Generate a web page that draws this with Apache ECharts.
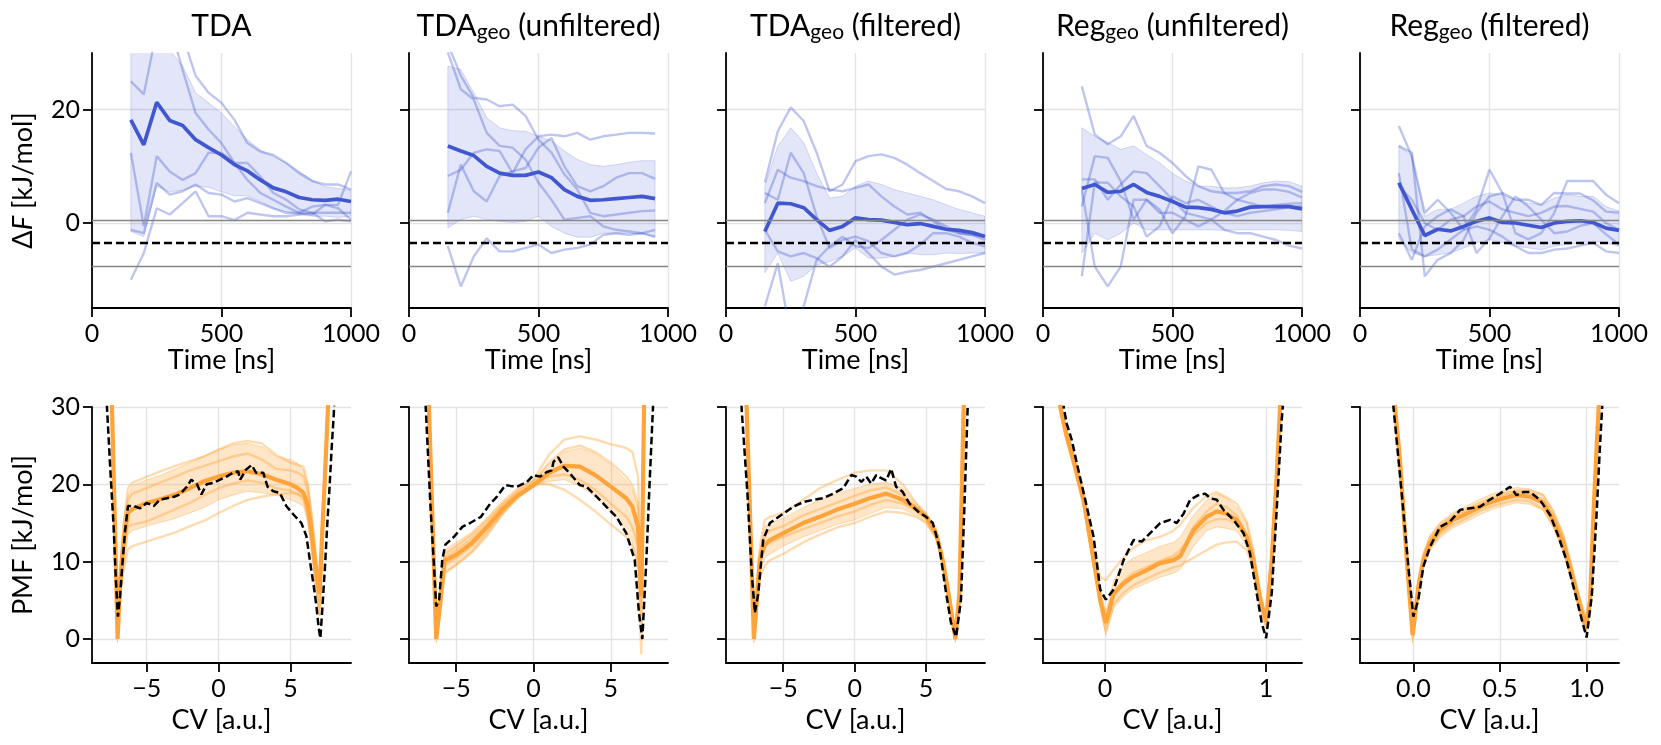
<!DOCTYPE html>
<html><head><meta charset="utf-8">
<script src="https://cdn.jsdelivr.net/npm/echarts@6/dist/echarts.min.js"></script>
<style>html,body{margin:0;padding:0;background:#fff}#c{width:1661px;height:745px}</style>
</head><body><div id="c"></div>
<script>
// ---------------- titles & ticks ----------------
const panelTitles = ['TDA', 'TDA{s|geo} (unfiltered)', 'TDA{s|geo} (filtered)', 'Reg{s|geo} (unfiltered)', 'Reg{s|geo} (filtered)'];
const timeTicks = [0, 500, 1000];
const dfTicks = [0, 20];
const pmfTicks = [0, 10, 20, 30];
const cvTicksWide = [-5, 0, 5];
const cvTicksReg = [0, 1];
const cvTicksRegF = [0, 0.5, 1.0];

// ---------------- top row: ΔF vs time ----------------
const timeA = [150,200,250,300,350,400,450,500,550,600,650,700,750,800,850,900,950,1000];
const timeB = [150,200,250,300,350,400,450,500,550,600,650,700,750,800,850,900,950];
const dfRef = -3.55;
const dfTolHi = 0.45;
const dfTolLo = -7.55;

// TDA
const dfMean1 = [18.2, 13.8, 21.3, 18.1, 17.2, 14.7, 13.3, 12.0, 10.3, 9.2, 7.6, 6.2, 5.5, 4.5, 4.1, 4.0, 4.2, 3.8];
const dfHi1 = [38, 35, 34, 30.5, 27.7, 23, 21.2, 19.4, 17, 14.7, 12.9, 11.7, 10.6, 9.1, 7.6, 6.4, 6.1, 5.8];
const dfLo1 = [-1.5, -2.4, 6.5, 5.5, 5.8, 6.5, 6.3, 5.5, 4.8, 4.8, 3.8, 2.6, 2.0, 1.5, 1.2, 1.2, 1.0, 1.2];
const dfRun1a = [25, 22.7, 34, 36, 33, 26, 23, 21.2, 18.2, 14.1, 12.6, 12, 10.6, 8.8, 7.4, 6.8, 6.8, 5.9];
const dfRun1b = [12.4, -0.6, 11.8, 9.1, 7.6, 8.8, 12.4, 12.4, 10.6, 10.6, 8.2, 5.3, 4.1, 2.4, 1.8, 0.3, 0.6, 0.3];
const dfRun1c = [-10, -5.3, 2.6, 1.5, 3.5, 5.6, 1.2, 1.2, 0.5, 1.8, 1.5, 1.2, 1.2, 1.5, 1.8, 1.8, 1.8, 1.8];
const dfRun1d = [-1.2, -1.8, 7.1, 5, 5.6, 6.8, 5.3, 5, 3.8, 4.4, 3.5, 2.6, 1.8, 1.8, 2.9, 3.2, 2.6, 0.6];
const dfRun1e = [38, 36, 40, 35, 27, 19.4, 16.5, 14.1, 10.6, 7.6, 5.3, 4.1, 2.9, 1.8, 1.5, 3.2, 3.2, 9.1];

// TDA_geo unfiltered
const dfMean2 = [13.6, 12.7, 11.9, 10.0, 8.8, 8.4, 8.4, 9.0, 8.0, 5.9, 4.7, 4.0, 4.1, 4.3, 4.5, 4.7, 4.3];
const dfHi2 = [27.7, 27.1, 23, 18.6, 16.8, 16.3, 16.2, 15.3, 14.5, 12.7, 11.2, 10.3, 10, 10.3, 10.7, 11.0, 11.0];
const dfLo2 = [-0.9, 0.6, 1.2, 0.6, 0.3, 0.1, 0.3, 1.2, -0.6, -1.8, -2.5, -2.5, -1.8, -1.8, -1.8, -1.9, -2.5];
const dfRun2a = [30.1, 23.6, 21.8, 15.9, 13.6, 13.3, 11.2, 7.1, 4.1, 0.6, 0.9, 1.2, -0.6, -1.2, -1.5, -1.8, -2.4];
const dfRun2b = [31.6, 26, 22.1, 21.8, 20.6, 20.9, 18.9, 14.7, 12.4, 8.6, 5.9, 1.8, 1.2, 1.5, 1.8, 2.1, 2.2];
const dfRun2c = [8.3, 9.4, 12.4, 13, 12.7, 8.8, 13, 15.3, 15.6, 15.3, 15.9, 14.7, 15.3, 15.6, 15.9, 15.9, 15.8];
const dfRun2d = [1.8, 10.3, 5.6, 3.8, 8.3, 9.1, 9.7, 13.3, 15.0, 10, 6.5, 5.6, 6.5, 8, 8.8, 8.8, 7.8];
const dfRun2e = [-4.1, -11.2, -5.9, -2.7, -5, -5, -4.4, -3.8, -5.3, -4.7, -4.4, -3.8, -2.1, -1.8, -2.1, -1.8, -1.2];

// TDA_geo filtered
const dfMean3 = [-1.5, 3.5, 3.4, 2.7, 0.6, -1.3, -0.6, 0.9, 0.6, 0.5, 0.1, -0.3, -0.1, -0.6, -1.1, -1.3, -1.7, -2.4];
const dfHi3 = [6.5, 13.6, 16.8, 14.2, 8.8, 4.4, 4.7, 6.5, 7.4, 6.8, 5.9, 5.3, 4.7, 4.1, 3.2, 2.4, 1.8, 1.2];
const dfLo3 = [-8.8, -5.3, -10.3, -9.4, -7.4, -6.8, -5.9, -4.4, -6.2, -6.2, -5.9, -5.3, -5.6, -5.6, -5.3, -5.4, -5.3, -5.3];
const dfRun3a = [7.1, 16.2, 20.4, 18, 12.4, 5.6, 6.8, 10.9, 11.8, 12.1, 11.5, 10.3, 8.8, 7.4, 6, 5.6, 4.7, 3.5];
const dfRun3b = [3.5, 9.4, 8, 7.4, 6.5, 5.9, 5.6, 6.2, 6.8, 4.7, 2.9, 1.5, 1.8, 0.3, -1.2, -1.8, -2.1, -3];
const dfRun3c = [5.3, 4.1, 12.4, 8.8, 1.2, -4.4, -3, -2.4, -3.2, -5.3, -5.9, -5.3, -3.8, -1.8, -1.8, -2.4, -3.5, -4.1];
const dfRun3d = [-1.2, -5, -5.9, -5.3, -6.2, -7.7, -5.9, -3, -5.3, -7.7, -9.1, -8.6, -8.3, -7.7, -7.1, -6.5, -5.9, -5.3];
const dfRun3e = [-14.7, -7.1, -20, -14.7, -6.5, -4.1, -2.4, -4.1, -4.4, -3, -1.2, 0.6, 1.5, 0.6, -0.6, -1.8, -2.1, -2.4];

// Reg_geo unfiltered
const dfMean4 = [6.1, 6.8, 5.4, 5.6, 6.8, 5.4, 4.7, 3.8, 2.8, 2.7, 2.4, 1.8, 2.1, 2.8, 2.9, 2.9, 2.9, 2.5];
const dfHi4 = [16.8, 15.3, 14.2, 13, 13.6, 12.1, 10.6, 8.8, 7.4, 6.5, 6.5, 6.2, 6.2, 6.5, 7.1, 7.4, 7.3, 6.5];
const dfLo4 = [-5.3, -1.8, -3, -1.8, 0, -1.2, -1.2, -1.2, -1.2, -1.2, -1.2, -1.3, -1.2, -1.2, -1.2, -1.2, -1.3, -1.5];
const dfRun4a = [24.1, 15.6, 13.9, 15.3, 18.9, 13.6, 12.4, 10.6, 8.3, 6.5, 5.6, 5.3, 5.3, 5.6, 6.5, 6.8, 6.5, 5.5];
const dfRun4b = [2.9, 11.8, 11.5, 7.4, 0.6, 4.1, 1.8, 1.8, 0.6, -0.6, 0.6, 2.1, 4.1, 5.3, 5.9, 5.9, 5.5, 4.5];
const dfRun4c = [-9.4, 7.2, 7.1, 4.7, 2.9, -2.4, -0.6, 4.7, 3.5, 4.1, 2.9, 1.8, 1.2, 1.8, 2.1, 2.4, 2.8, 3];
const dfRun4d = [5.9, -7.7, -11.2, -7.7, 4.1, 4.1, 2.4, -1.8, 1.2, 10, 9.4, 5.3, 4.1, 3.5, 2.9, 3.2, 3.4, 3.5];
const dfRun4e = [7.7, 7.7, 4.1, 6.8, 9.1, 8.8, 6.5, 4.1, 1.8, 1.2, 0.6, -1.2, -1.8, -1.8, -2.4, -3, -4, -4.5];

// Reg_geo filtered
const dfMean5 = [7.1, 2.4, -2.2, -1.1, -1.4, -0.6, 0.3, 0.9, 0.1, 0, -0.4, -0.8, 0, 0.3, 0.4, 0.1, -0.9, -1.3];
const dfHi5 = [13.6, 11.8, 1.2, 2.4, 2.4, 3.5, 4.7, 5.3, 5, 4.1, 3.5, 3.2, 4.4, 5, 4.7, 4.7, 2.9, 2.1];
const dfLo5 = [-2.9, -5.3, -5.9, -5.6, -5.3, -4.4, -3.5, -2.9, -3.5, -4.1, -4.4, -4.7, -4.1, -3.8, -3.5, -3.2, -3.5, -4.1];
const dfRun5a = [17.1, 11.8, 1.8, 4.1, 1.8, -1.2, 2.4, 9.4, 5.3, -1.8, -2.9, -1.8, 1.8, 7.4, 7.4, 7.4, 5, 3.5];
const dfRun5b = [13.6, 12.4, -9.4, -6.5, -5.3, -3, 1.8, 4.7, 5.3, 4.1, 4.1, 3.2, 5.3, 5.2, 5.2, 4, 2, 1.8];
const dfRun5c = [-1.8, -6.5, -0.6, 1.2, 2.4, 1.2, -5.3, -2.7, 1.2, 4.7, 2.9, 0.6, -1.8, -1.5, -0.5, 0, -2, -3.8];
const dfRun5d = [8.8, -4.7, -5.9, -4.7, -2.9, -1.2, -0.6, -1.2, -2.4, -4.1, -5.3, -5.3, -4.7, -4.5, -4, -3.5, -5, -5.3];
const dfRun5e = [6.5, 4.1, 0, -1.2, 0.6, 1.2, 2.9, 3.8, 2.4, 1.8, 1.2, 1.8, 2.9, 3, 2.5, 2, 0, -1.2];

// ---------------- bottom row: PMF vs CV ----------------
// TDA
const cv1 = [-7.75, -7.41, -7.2, -7.02, -6.85, -6.6, -6.3, -6.0, -5, -4, -3, -2, -1, 0, 1, 2, 3, 4, 5, 5.5, 5.9, 6.2, 6.45, 6.7, 6.9, 7.02, 7.2, 7.4, 7.6, 7.75];
const pmfMean1 = [42, 30, 14.1, 0, 7, 12.5, 16.3, 16.8, 17.6, 18.1, 18.7, 19.5, 20.4, 21, 21.5, 21.7, 21.3, 20.6, 20, 19.5, 18.9, 17.3, 14, 10, 7.3, 5.9, 13.7, 21.4, 30, 38];
const pmfHi1 = [44, 32, 17, 3, 10, 15.5, 18.5, 19.8, 20.6, 21.2, 22, 22.8, 23.7, 24.5, 25.1, 25.3, 24.9, 23.6, 23.2, 22.7, 21.9, 20, 17, 13, 9.5, 8, 16, 24, 32, 40];
const pmfLo1 = [40, 28, 11, -0.5, 4, 9, 13.5, 14, 14.6, 15.1, 15.6, 16.3, 17, 18, 18.6, 19.1, 18.9, 18.6, 18, 17.6, 17.2, 15, 11.5, 7.5, 4, 3, 11, 19, 28, 37];
const pmfRun1a = [42, 30, 15, 1, 6, 9, 11.6, 12, 12.6, 13.2, 13.8, 14.6, 15.3, 16.3, 17.2, 18, 18.4, 18.7, 18.9, 18.7, 18.4, 16, 12.5, 8, 5, 3, 12, 20, 29, 38];
const pmfRun1b = [43, 31, 17, 2, 9, 15, 19.5, 20.2, 21, 21.7, 22.4, 23, 23.6, 24.5, 25.3, 25.6, 25.3, 23.8, 22.8, 22.5, 22.3, 20, 16, 11, 8, 7, 15, 23, 31, 40];
const pmfRun1c = [42, 30, 16, 0.5, 8, 13, 18, 18.8, 19.5, 20.3, 21, 21.8, 22.4, 23, 23.6, 24, 23.2, 22, 21.8, 21.5, 21, 19, 15, 10, 7, 6, 14, 22, 30, 39];
const pmfRun1d = [41, 29, 14, 0, 6, 11, 14.5, 14.8, 15.2, 16, 16.8, 17.6, 18.6, 19.5, 20.1, 20.5, 20.2, 19.5, 19.2, 18.8, 18, 16, 12, 8, 5, 4, 13, 21, 29, 38];
const cvRef1 = [-8.1, -7.76, -7.5, -7.3, -7.15, -7.0, -6.85, -6.7, -6.5, -6.3, -5.9, -5.45, -5.0, -4.5, -4.1, -3.6, -3.1, -2.7, -2.2, -1.9, -1.5, -1.2, -0.83, -0.37, 0.1, 0.55, 1.0, 1.36, 1.5, 1.9, 2.3, 2.6, 3.1, 3.4, 3.8, 4.25, 4.7, 5.2, 5.75, 6.1, 6.4, 6.6, 6.8, 6.95, 7.07, 7.2, 7.4, 7.55, 7.7, 7.85, 8.0, 8.1];
const pmfRef1 = [36, 30, 21, 14.6, 8, 2.9, 5.5, 9.4, 14, 17.2, 17.2, 16.9, 17.6, 17.2, 18, 18.2, 18.4, 18.7, 19.7, 20.6, 20, 18.7, 20, 20.2, 20.6, 21, 21.5, 21.7, 20.6, 21.9, 22.5, 21.5, 21.5, 19.7, 19.1, 18.9, 17.2, 16.1, 15, 13.3, 9.4, 7, 4.2, 1.5, 0.1, 3.7, 9.6, 14.8, 19.3, 24.5, 29, 33];

// TDA_geo unfiltered
const cv2 = [-6.95, -6.76, -6.55, -6.29, -6.05, -5.75, -5, -4, -3, -2, -1, 0, 1, 2, 3, 4, 5, 6, 6.4, 6.76, 6.97, 7.05, 7.15, 7.3];
const pmfMean2 = [40, 30, 16.6, 0, 4.4, 10.1, 10.9, 12.4, 14.5, 16.8, 18.6, 19.9, 21.5, 22.4, 22.3, 21.2, 19.7, 18.2, 17.1, 14.5, 5.5, 15, 30, 40];
const pmfHi2 = [41, 31, 18, 2, 7, 11.5, 12.5, 13.8, 15.7, 17.9, 19.6, 20.5, 22.6, 24.2, 24.7, 24, 22.5, 20.5, 19.2, 17, 9, 18, 31, 41];
const pmfLo2 = [39, 29, 15, -0.5, 2.5, 8.5, 9.5, 11, 13.2, 16, 18.2, 19.6, 20.4, 20.6, 19.8, 18.5, 16.5, 14, 12.5, 9, 2, 12, 29, 39];
const pmfRun2a = [40, 30, 17, 1, 6, 11, 12, 13.5, 15.4, 17.5, 19.3, 20.6, 23.8, 25.8, 26.2, 25.8, 25.2, 24.7, 24.2, 21, 8, 18, 31, 40];
const pmfRun2b = [40, 30, 16, 0, 3, 8.5, 9.6, 11.3, 13.6, 16.3, 18.6, 20.1, 20, 19.3, 18, 16.5, 14.8, 13.2, 12, 10, -2, 8, 29, 39];
const pmfRun2c = [40, 30, 17, 1, 5, 10.5, 11.5, 13, 15, 17.3, 19, 20.3, 22.8, 24.5, 25, 24.2, 22.8, 21, 19.8, 17.5, 9, 17, 30, 40];
const pmfRun2d = [40, 30, 16, 0.5, 4, 9.5, 10.5, 12, 14, 16.3, 18.3, 19.8, 21, 21.3, 20.6, 19.3, 17.5, 15.8, 14.5, 12, 4, 14, 30, 40];
const cvRef2 = [-7.1, -6.97, -6.65, -6.45, -6.29, -6.1, -5.9, -5.7, -5.15, -4.6, -4.1, -3.4, -2.8, -2.36, -1.82, -1.5, -1.07, -0.43, 0, 0.43, 0.86, 1.18, 1.29, 1.6, 1.93, 2.36, 3.0, 3.43, 4.08, 4.72, 5.36, 6.0, 6.55, 6.82, 7.04, 7.3, 7.5, 7.73, 7.85];
const pmfRef2 = [36, 30, 16.7, 10, 4.2, 5.1, 10.2, 12.2, 13.2, 14.5, 15, 15.8, 17.5, 18.4, 19.9, 19.8, 19.7, 20.3, 21.2, 21, 21.6, 21.8, 22.9, 23.5, 22.3, 21.4, 19.9, 19.7, 18.4, 17.1, 15.8, 13.7, 10.2, 3.4, 0, 10.2, 19.7, 30, 35];

// TDA_geo filtered
const cv3 = [-7.75, -7.56, -7.3, -7.05, -6.85, -6.63, -6.28, -5.93, -5, -3.6, -2.44, -1.28, 0, 1.05, 2.2, 3.37, 4.3, 5, 5.7, 6.16, 6.63, 7.05, 7.33, 7.63, 7.8];
const pmfMean3 = [40, 30, 15.1, 0, 4.8, 10.2, 12.2, 12.8, 13.7, 15, 15.8, 16.7, 17.5, 18.2, 18.8, 18, 16.9, 15.8, 13.7, 10.2, 5.1, 0, 5.9, 30, 40];
const pmfHi3 = [41, 31, 16.5, 1.5, 7.5, 11.5, 14.5, 15, 15.6, 17, 18, 18.8, 19.5, 20, 20.3, 19.5, 17.5, 16.3, 14.5, 11, 6.5, 1, 8, 31, 41];
const pmfLo3 = [39, 29, 13.5, -0.5, 3.5, 8.5, 10.5, 11, 12, 13.2, 14, 14.8, 15.4, 16.2, 17, 16.8, 16, 15, 13, 9.5, 4, -0.5, 4, 29, 39];
const pmfRun3a = [40, 30, 16, 1, 7, 12, 15.4, 15.8, 16.3, 18, 19.5, 20.5, 21.5, 21.8, 21.8, 20, 17.6, 16.2, 14, 10.5, 5.5, 0.5, 7, 30, 40];
const pmfRun3b = [40, 30, 14, 0, 4, 8, 9.5, 10.2, 11, 12.5, 13.5, 14.4, 15, 15.8, 16.5, 16.3, 15.8, 15, 13, 9.8, 4.8, 0, 5, 30, 40];
const pmfRun3c = [40, 30, 15, 0.5, 6, 11, 13.5, 14, 14.6, 16, 16.8, 17.6, 18.5, 19.2, 19.6, 18.6, 17, 15.6, 13.5, 10, 5, 0.2, 6, 30, 40];
const pmfRun3d = [40, 30, 15, 0, 5, 10, 12, 12.5, 13.2, 14.2, 15, 15.8, 16.5, 17.3, 18, 17.5, 16.5, 15.5, 13.3, 10, 5, 0, 5.5, 30, 40];
const cvRef3 = [-8.05, -7.9, -7.5, -7.2, -6.98, -6.74, -6.4, -5.93, -5, -4.3, -3.6, -2.9, -2.2, -1.5, -0.8, -0.23, 0.12, 0.47, 0.81, 1.16, 1.51, 1.86, 2.2, 2.56, 2.9, 3.37, 3.84, 4.42, 5, 5.47, 5.93, 6.4, 6.74, 7.1, 7.44, 7.67, 7.9, 8.05];
const pmfRef3 = [36, 29.6, 18.8, 8.5, 3.4, 5.9, 12.8, 15, 16.2, 17.1, 17.7, 18, 18.2, 18.8, 19.5, 21.2, 21, 20.3, 21, 20.1, 21.2, 20.8, 20.5, 22, 19.7, 19, 17.5, 16.5, 15.8, 15, 11.9, 5.9, 2.1, 0.3, 5.1, 16.7, 29.6, 36];

// Reg_geo unfiltered
const cv4 = [-0.31, -0.277, -0.24, -0.194, -0.132, -0.07, -0.029, 0.006, 0.054, 0.116, 0.178, 0.26, 0.343, 0.426, 0.467, 0.55, 0.632, 0.694, 0.756, 0.818, 0.88, 0.921, 0.963, 1.0, 1.035, 1.066, 1.087, 1.11];
const pmfMean4 = [40, 30, 26.5, 23.1, 18, 10.2, 5.1, 2.1, 5.9, 7.2, 8.1, 8.9, 9.8, 10.2, 10.7, 14.1, 15.8, 16.5, 16.2, 15.4, 13.2, 10.2, 5.1, 2.3, 10.2, 21, 30, 40];
const pmfHi4 = [41, 31, 27.5, 24.2, 19.2, 11.5, 6.5, 3.5, 7.5, 9.5, 10.5, 11.2, 12, 12.5, 13.2, 16, 18, 18.8, 18.2, 17, 15, 11.5, 6.5, 3, 12, 23, 31, 41];
const pmfLo4 = [39, 29, 25.5, 22, 16.8, 9, 3.8, 0.5, 4, 5.5, 6.5, 7.2, 8, 8.5, 9, 12, 14, 14.5, 14.3, 14, 12, 9, 4, 1.5, 8.5, 19, 29, 39];
const pmfRun4a = [40, 30, 26, 22.5, 17.5, 9.8, 4.5, 1, 4.5, 6, 7, 7.8, 8.6, 9.3, 9.5, 10.5, 11.5, 12.2, 12.5, 12.6, 11.5, 9, 4.5, 1.5, 9, 20, 30, 40];
const pmfRun4b = [40, 30, 27, 24, 19, 11.5, 8, 7.6, 9, 10.5, 11.8, 12.8, 13.2, 14, 14.8, 17, 18.5, 19, 18.3, 17.5, 15.2, 11.5, 6, 2.5, 11, 22, 31, 41];
const pmfRun4c = [40, 30, 26.5, 23, 18, 10, 5, 1.8, 5.5, 7, 8, 9, 10, 10.5, 11, 14.5, 16.5, 17.5, 17, 16, 13.5, 10.5, 5.5, 2.2, 10, 21, 30, 40];
const pmfRun4d = [40, 30, 26, 22.8, 17.8, 10, 5, 2.5, 6, 7.5, 8.6, 9.3, 10.1, 10.8, 11.5, 13.5, 15, 15.5, 15.5, 15, 13, 10, 5, 2.4, 10, 21, 30, 40];
const cvRef4 = [-0.28, -0.256, -0.236, -0.205, -0.174, -0.122, -0.07, -0.029, 0.006, 0.054, 0.116, 0.178, 0.229, 0.281, 0.343, 0.405, 0.446, 0.488, 0.529, 0.58, 0.622, 0.653, 0.694, 0.736, 0.798, 0.86, 0.9, 0.942, 0.973, 1.0, 1.035, 1.066, 1.097, 1.12];
const pmfRef4 = [35, 30, 27.8, 25.7, 22.7, 18, 13.2, 6.4, 5.1, 6.4, 10.2, 12.8, 12.6, 13.7, 15, 15.4, 15, 16.2, 18, 18.6, 18.8, 18.2, 18, 16.7, 15.4, 13.7, 11.1, 5.9, 2.1, 0.1, 5.9, 16.7, 28.3, 34];

// Reg_geo filtered
const cv5 = [-0.13, -0.106, -0.077, -0.038, -0.004, 0.029, 0.058, 0.096, 0.154, 0.23, 0.308, 0.385, 0.46, 0.538, 0.596, 0.673, 0.75, 0.808, 0.865, 0.913, 0.962, 0.996, 1.02, 1.04, 1.058, 1.07, 1.09];
const pmfMean5 = [38, 30, 23.1, 10.2, 0.5, 6.8, 10.2, 12.4, 14.1, 15.4, 16.2, 17.1, 17.8, 18.3, 18.6, 18.4, 17.6, 15.4, 12.4, 8.5, 4.2, 1.6, 4.9, 16.3, 24.9, 30, 38];
const pmfHi5 = [39, 31, 24, 11.5, 1.8, 7.8, 11.2, 13.4, 15.1, 16.4, 17.2, 18.1, 18.8, 19.3, 19.6, 19.4, 18.7, 16.6, 13.6, 9.7, 5.4, 3, 6, 17.3, 25.9, 31, 39];
const pmfLo5 = [37, 29, 22.2, 9, -0.5, 5.8, 9.2, 11.4, 13.1, 14.4, 15.2, 16.1, 16.8, 17.3, 17.6, 17.4, 16.6, 14.4, 11.3, 7.5, 3.2, 0.6, 4, 15.3, 23.9, 29, 37];
const pmfRun5a = [38, 30, 23.5, 11, 1.2, 7.5, 11, 13.2, 14.8, 16, 16.8, 17.6, 18.3, 18.9, 19.2, 19.2, 18.6, 16.5, 13.5, 9.5, 5, 2.5, 5.5, 17, 25.5, 30, 38];
const pmfRun5b = [38, 30, 22.8, 9.5, 0, 6.2, 9.6, 11.8, 13.5, 14.8, 15.6, 16.6, 17.2, 17.7, 18, 17.8, 16.8, 14.6, 11.6, 7.8, 3.6, 0.8, 4.4, 15.8, 24.5, 30, 38];
const pmfRun5c = [38, 30, 23.2, 10.5, 0.6, 7, 10.5, 12.8, 14.5, 15.8, 16.5, 17.3, 18, 18.6, 19, 18.8, 18, 16, 13, 9, 4.6, 2, 5, 16.5, 25, 30, 38];
const cvRef5 = [-0.13, -0.115, -0.067, -0.029, 0, 0.029, 0.058, 0.096, 0.154, 0.212, 0.27, 0.327, 0.385, 0.44, 0.5, 0.558, 0.596, 0.635, 0.673, 0.73, 0.79, 0.837, 0.885, 0.933, 0.971, 1.0, 1.03, 1.058, 1.077, 1.09, 1.11];
const pmfRef5 = [36, 30, 18.8, 9.4, 2.9, 5.1, 9.4, 11.9, 14.5, 15.2, 16.7, 16.9, 17.1, 18, 18.8, 19.7, 18.6, 19, 19, 18, 16, 13.3, 10.1, 6, 2.6, 0.2, 5.6, 16.3, 24.9, 30, 36];

// ---------------- assembling ----------------
const topPanels = [
  {t: timeA, mean: dfMean1, hi: dfHi1, lo: dfLo1, runs: [dfRun1a, dfRun1b, dfRun1c, dfRun1d, dfRun1e]},
  {t: timeB, mean: dfMean2, hi: dfHi2, lo: dfLo2, runs: [dfRun2a, dfRun2b, dfRun2c, dfRun2d, dfRun2e]},
  {t: timeA, mean: dfMean3, hi: dfHi3, lo: dfLo3, runs: [dfRun3a, dfRun3b, dfRun3c, dfRun3d, dfRun3e]},
  {t: timeA, mean: dfMean4, hi: dfHi4, lo: dfLo4, runs: [dfRun4a, dfRun4b, dfRun4c, dfRun4d, dfRun4e]},
  {t: timeA, mean: dfMean5, hi: dfHi5, lo: dfLo5, runs: [dfRun5a, dfRun5b, dfRun5c, dfRun5d, dfRun5e]}
];
const bottomPanels = [
  {cv: cv1, mean: pmfMean1, hi: pmfHi1, lo: pmfLo1, runs: [pmfRun1a, pmfRun1b, pmfRun1c, pmfRun1d], cvRef: cvRef1, ref: pmfRef1, xmin: -8.8, xmax: 9.2, ticks: cvTicksWide},
  {cv: cv2, mean: pmfMean2, hi: pmfHi2, lo: pmfLo2, runs: [pmfRun2a, pmfRun2b, pmfRun2c, pmfRun2d], cvRef: cvRef2, ref: pmfRef2, xmin: -8.05, xmax: 8.7, ticks: cvTicksWide},
  {cv: cv3, mean: pmfMean3, hi: pmfHi3, lo: pmfLo3, runs: [pmfRun3a, pmfRun3b, pmfRun3c, pmfRun3d], cvRef: cvRef3, ref: pmfRef3, xmin: -9.0, xmax: 9.12, ticks: cvTicksWide},
  {cv: cv4, mean: pmfMean4, hi: pmfHi4, lo: pmfLo4, runs: [pmfRun4a, pmfRun4b, pmfRun4c, pmfRun4d], cvRef: cvRef4, ref: pmfRef4, xmin: -0.384, xmax: 1.223, ticks: cvTicksReg},
  {cv: cv5, mean: pmfMean5, hi: pmfHi5, lo: pmfLo5, runs: [pmfRun5a, pmfRun5b, pmfRun5c], cvRef: cvRef5, ref: pmfRef5, xmin: -0.308, xmax: 1.187, ticks: cvTicksRegF, fixed: 1}
];

const FONT = 'Lato';
const BLUE = '#4157cf';
const BLUE_RUN = 'rgba(65,87,207,0.34)';
const BLUE_BAND = 'rgba(65,87,207,0.15)';
const BLUE_EDGE = 'rgba(65,87,207,0.2)';
const ORANGE = '#ffa43a';
const ORANGE_RUN = 'rgba(255,164,58,0.4)';
const ORANGE_BAND = 'rgba(255,164,58,0.28)';
const ORANGE_EDGE = 'rgba(255,164,58,0.35)';
const lefts = [92, 409, 726, 1043, 1360];
const W = 259;

function pairs(xs, ys) { return xs.map((x, i) => [x, ys[i]]); }
function minus(v) { return String(v).replace('-', '\u2212'); }

const grids = [], xAxes = [], yAxes = [], series = [];
const axisLine = {show: true, onZero: false, lineStyle: {color: '#000', width: 1.8}};
const tickStyle = {color: '#000', width: 1.8};
const split = {show: true, lineStyle: {color: '#e3e3e3', width: 1.4}};
const labelBase = {fontSize: 25, fontFamily: FONT, color: '#000'};
const nameBase = {fontSize: 27, fontFamily: FONT, color: '#000'};

for (let p = 0; p < 5; p++) {
  grids.push({left: lefts[p], width: W, top: 53, height: 255});
  xAxes.push({gridIndex: p, type: 'value', min: 0, max: 1000,
    axisLine, axisTick: {show: true, customValues: timeTicks, length: 9, lineStyle: tickStyle},
    axisLabel: Object.assign({customValues: timeTicks, margin: 13, formatter: v => String(v)}, labelBase),
    splitLine: split, name: 'Time [ns]', nameLocation: 'middle', nameGap: 35, nameTextStyle: nameBase});
  yAxes.push({gridIndex: p, type: 'value', min: -15, max: 30,
    axisLine, axisTick: {show: true, customValues: dfTicks, length: 9, lineStyle: tickStyle},
    axisLabel: Object.assign({show: p === 0, customValues: dfTicks, margin: 12, formatter: minus}, labelBase),
    splitLine: split,
    name: p === 0 ? '\u0394{i|F} [kJ/mol]' : '', nameLocation: 'middle', nameGap: 55,
    nameTextStyle: Object.assign({rich: {i: {fontStyle: 'italic', fontSize: 27, fontFamily: FONT, color: '#000'}}}, nameBase)});
}
for (let p = 0; p < 5; p++) {
  const b = bottomPanels[p];
  const gi = p + 5;
  grids.push({left: lefts[p], width: W, top: 407, height: 256});
  xAxes.push({gridIndex: gi, type: 'value', min: b.xmin, max: b.xmax,
    axisLine, axisTick: {show: true, customValues: b.ticks, length: 9, lineStyle: tickStyle},
    axisLabel: Object.assign({customValues: b.ticks, margin: 13,
      formatter: v => b.fixed ? Number(v).toFixed(b.fixed) : minus(v)}, labelBase),
    splitLine: split, name: 'CV [a.u.]', nameLocation: 'middle', nameGap: 44, nameTextStyle: nameBase});
  yAxes.push({gridIndex: gi, type: 'value', min: -3.1, max: 30,
    axisLine, axisTick: {show: true, customValues: pmfTicks, length: 9, lineStyle: tickStyle},
    axisLabel: Object.assign({show: p === 0, customValues: pmfTicks, margin: 12}, labelBase),
    splitLine: split,
    name: p === 0 ? 'PMF [kJ/mol]' : '', nameLocation: 'middle', nameGap: 55, nameTextStyle: nameBase});
}

// band between lo and hi drawn as one polygon through the axes' scales
function addBand(idx, xs, lo, hi, fill, edge) {
  const rows = xs.map((x, i) => [x, lo[i], hi[i]]);
  series.push({type: 'custom', xAxisIndex: idx, yAxisIndex: idx, silent: true, z: 1,
    encode: {x: 0, y: [1, 2]}, data: rows,
    renderItem: function (params, api) {
      if (params.dataIndex !== 0) return null;
      const upper = rows.map(r => api.coord([r[0], r[2]]));
      const lower = rows.map(r => api.coord([r[0], r[1]])).reverse();
      const cs = params.coordSys;
      return {type: 'group',
        clipPath: {type: 'rect', shape: {x: cs.x, y: cs.y, width: cs.width, height: cs.height}},
        children: [{type: 'polygon', shape: {points: upper.concat(lower)},
          style: {fill: fill, stroke: edge, lineWidth: 1}}]};
    }});
}

topPanels.forEach((d, p) => {
  addBand(p, d.t, d.lo, d.hi, BLUE_BAND, BLUE_EDGE);
  d.runs.forEach(r => series.push({type: 'line', xAxisIndex: p, yAxisIndex: p, data: pairs(d.t, r), symbol: 'none', silent: true, z: 2,
    lineStyle: {color: BLUE_RUN, width: 2.4}}));
  series.push({type: 'line', xAxisIndex: p, yAxisIndex: p, data: pairs(d.t, d.mean), symbol: 'none', silent: true, z: 4,
    lineStyle: {color: BLUE, width: 3.7},
    markLine: {silent: true, symbol: ['none', 'none'], label: {show: false}, animation: false,
      data: [
        {yAxis: dfTolHi, lineStyle: {color: '#858585', width: 1.3, type: 'solid'}},
        {yAxis: dfTolLo, lineStyle: {color: '#858585', width: 1.3, type: 'solid'}},
        {yAxis: dfRef, lineStyle: {color: '#000', width: 2.4, type: [8, 4]}}
      ]}});
});

bottomPanels.forEach((d, p) => {
  const gi = p + 5;
  addBand(gi, d.cv, d.lo, d.hi, ORANGE_BAND, ORANGE_EDGE);
  d.runs.forEach(r => series.push({type: 'line', xAxisIndex: gi, yAxisIndex: gi, data: pairs(d.cv, r), symbol: 'none', silent: true, z: 2,
    lineStyle: {color: ORANGE_RUN, width: 2.4}}));
  series.push({type: 'line', xAxisIndex: gi, yAxisIndex: gi, data: pairs(d.cv, d.mean), symbol: 'none', silent: true, z: 4,
    lineStyle: {color: ORANGE, width: 4.2}});
  series.push({type: 'line', xAxisIndex: gi, yAxisIndex: gi, data: pairs(d.cvRef, d.ref), symbol: 'none', silent: true, z: 5,
    lineStyle: {color: '#000', width: 2.5, type: [7.5, 3.5]}});
});

const graphics = panelTitles.map((t, p) => ({
  type: 'text', x: lefts[p] + W / 2, y: 26, silent: true,
  style: {text: t, fontSize: 30, fontFamily: FONT, fill: '#000', align: 'center', verticalAlign: 'middle',
    rich: {s: {fontSize: 21, fontFamily: FONT, fill: '#000', padding: [13, 0, 0, 0]}}}
}));

const chart = echarts.init(document.getElementById('c'), null, {renderer: 'canvas'});
chart.setOption({
  animation: false,
  backgroundColor: '#fff',
  grid: grids, xAxis: xAxes, yAxis: yAxes, series: series, graphic: graphics
});
</script></body></html>
